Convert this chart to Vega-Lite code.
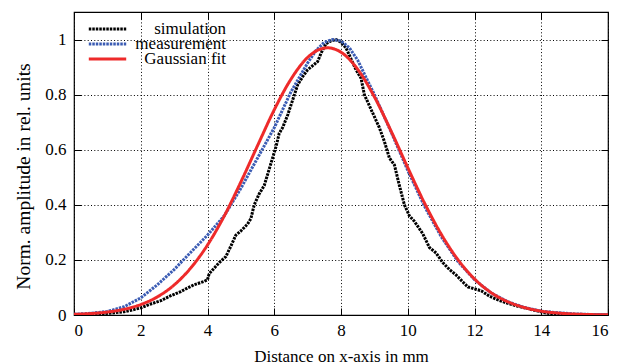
{
  "$schema": "https://vega.github.io/schema/vega-lite/v6.json",
  "width": 534,
  "height": 303,
  "autosize": {"type": "none"},
  "padding": {"left": 74, "top": 12, "right": 9, "bottom": 49},
  "background": "white",
  "config": {
    "font": "Liberation Serif",
    "style": {
      "guide-label": {"font": "Liberation Serif", "fill": "black"},
      "guide-title": {"font": "Liberation Serif", "fill": "black", "fontWeight": "normal"}
    },
    "view": {"stroke": "black", "strokeWidth": 1.2},
    "axis": {
      "domain": false,
      "tickColor": "black",
      "tickSize": -7,
      "tickWidth": 1,
      "labelFont": "Liberation Serif",
      "labelFontSize": 17,
      "labelColor": "black",
      "titleFont": "Liberation Serif",
      "titleFontWeight": "normal",
      "titleColor": "black",
      "gridColor": "black",
      "gridOpacity": 1,
      "gridWidth": 1,
      "gridDash": [1, 2.3]
    },
    "legend": {
      "orient": "none",
      "legendX": 13,
      "legendY": 10,
      "symbolType": "stroke",
      "symbolSize": 1400,
      "symbolStrokeWidth": 3,
      "labelFont": "Liberation Serif",
      "labelFontSize": 17,
      "labelColor": "black",
      "labelAlign": "right",
      "labelOffset": 98,
      "labelLimit": 0,
      "clipHeight": 14,
      "rowPadding": -4.5,
      "title": null
    }
  },
  "data": {
    "values": [
      {"s": "simulation", "x": 0, "y": 0},
      {"s": "simulation", "x": 0.5, "y": 0.001},
      {"s": "simulation", "x": 0.8, "y": 0.004},
      {"s": "simulation", "x": 1.2, "y": 0.008},
      {"s": "simulation", "x": 1.5, "y": 0.012},
      {"s": "simulation", "x": 1.8, "y": 0.02},
      {"s": "simulation", "x": 2.0, "y": 0.026},
      {"s": "simulation", "x": 2.3, "y": 0.04},
      {"s": "simulation", "x": 2.6, "y": 0.052},
      {"s": "simulation", "x": 2.9, "y": 0.07},
      {"s": "simulation", "x": 3.2, "y": 0.085},
      {"s": "simulation", "x": 3.4, "y": 0.098},
      {"s": "simulation", "x": 3.6, "y": 0.11},
      {"s": "simulation", "x": 3.9, "y": 0.122},
      {"s": "simulation", "x": 4.0, "y": 0.128},
      {"s": "simulation", "x": 4.05, "y": 0.15},
      {"s": "simulation", "x": 4.2, "y": 0.17},
      {"s": "simulation", "x": 4.35, "y": 0.19},
      {"s": "simulation", "x": 4.55, "y": 0.212},
      {"s": "simulation", "x": 4.7, "y": 0.25},
      {"s": "simulation", "x": 4.85, "y": 0.29},
      {"s": "simulation", "x": 5.0, "y": 0.305},
      {"s": "simulation", "x": 5.2, "y": 0.33},
      {"s": "simulation", "x": 5.3, "y": 0.35},
      {"s": "simulation", "x": 5.4, "y": 0.4},
      {"s": "simulation", "x": 5.55, "y": 0.44},
      {"s": "simulation", "x": 5.7, "y": 0.47},
      {"s": "simulation", "x": 5.85, "y": 0.53},
      {"s": "simulation", "x": 5.95, "y": 0.57},
      {"s": "simulation", "x": 6.05, "y": 0.61},
      {"s": "simulation", "x": 6.15, "y": 0.66},
      {"s": "simulation", "x": 6.25, "y": 0.68},
      {"s": "simulation", "x": 6.4, "y": 0.725},
      {"s": "simulation", "x": 6.55, "y": 0.78},
      {"s": "simulation", "x": 6.7, "y": 0.835},
      {"s": "simulation", "x": 6.85, "y": 0.865},
      {"s": "simulation", "x": 7.0, "y": 0.89},
      {"s": "simulation", "x": 7.15, "y": 0.905},
      {"s": "simulation", "x": 7.3, "y": 0.92},
      {"s": "simulation", "x": 7.4, "y": 0.95},
      {"s": "simulation", "x": 7.55, "y": 0.985},
      {"s": "simulation", "x": 7.7, "y": 0.995},
      {"s": "simulation", "x": 7.85, "y": 1.0},
      {"s": "simulation", "x": 8.0, "y": 0.99},
      {"s": "simulation", "x": 8.15, "y": 0.97},
      {"s": "simulation", "x": 8.3, "y": 0.93},
      {"s": "simulation", "x": 8.45, "y": 0.89},
      {"s": "simulation", "x": 8.6, "y": 0.86},
      {"s": "simulation", "x": 8.7, "y": 0.8},
      {"s": "simulation", "x": 8.85, "y": 0.76},
      {"s": "simulation", "x": 9.0, "y": 0.72},
      {"s": "simulation", "x": 9.15, "y": 0.68},
      {"s": "simulation", "x": 9.3, "y": 0.63},
      {"s": "simulation", "x": 9.45, "y": 0.57},
      {"s": "simulation", "x": 9.6, "y": 0.545},
      {"s": "simulation", "x": 9.75, "y": 0.47},
      {"s": "simulation", "x": 9.9, "y": 0.4},
      {"s": "simulation", "x": 10.05, "y": 0.36},
      {"s": "simulation", "x": 10.2, "y": 0.34},
      {"s": "simulation", "x": 10.45, "y": 0.295},
      {"s": "simulation", "x": 10.65, "y": 0.245},
      {"s": "simulation", "x": 10.85, "y": 0.225},
      {"s": "simulation", "x": 11.05, "y": 0.19},
      {"s": "simulation", "x": 11.25, "y": 0.165},
      {"s": "simulation", "x": 11.45, "y": 0.145},
      {"s": "simulation", "x": 11.65, "y": 0.12},
      {"s": "simulation", "x": 11.8, "y": 0.102},
      {"s": "simulation", "x": 12.0, "y": 0.095},
      {"s": "simulation", "x": 12.2, "y": 0.088},
      {"s": "simulation", "x": 12.45, "y": 0.068},
      {"s": "simulation", "x": 12.7, "y": 0.055},
      {"s": "simulation", "x": 13.0, "y": 0.042},
      {"s": "simulation", "x": 13.3, "y": 0.032},
      {"s": "simulation", "x": 13.6, "y": 0.023},
      {"s": "simulation", "x": 13.9, "y": 0.014},
      {"s": "simulation", "x": 14.2, "y": 0.006},
      {"s": "simulation", "x": 14.5, "y": 0.001},
      {"s": "simulation", "x": 15, "y": 0},
      {"s": "simulation", "x": 16, "y": 0},
      {"s": "measurement", "x": 0, "y": 0.003},
      {"s": "measurement", "x": 0.5, "y": 0.006},
      {"s": "measurement", "x": 1, "y": 0.013},
      {"s": "measurement", "x": 1.5, "y": 0.03},
      {"s": "measurement", "x": 2, "y": 0.062},
      {"s": "measurement", "x": 2.5, "y": 0.11},
      {"s": "measurement", "x": 3, "y": 0.165},
      {"s": "measurement", "x": 3.5, "y": 0.228},
      {"s": "measurement", "x": 4, "y": 0.29},
      {"s": "measurement", "x": 4.5, "y": 0.36},
      {"s": "measurement", "x": 5, "y": 0.46},
      {"s": "measurement", "x": 5.5, "y": 0.57},
      {"s": "measurement", "x": 6, "y": 0.68},
      {"s": "measurement", "x": 6.5, "y": 0.81},
      {"s": "measurement", "x": 7, "y": 0.915},
      {"s": "measurement", "x": 7.25, "y": 0.96},
      {"s": "measurement", "x": 7.5, "y": 0.99},
      {"s": "measurement", "x": 7.75, "y": 1.0},
      {"s": "measurement", "x": 8, "y": 0.995},
      {"s": "measurement", "x": 8.25, "y": 0.97},
      {"s": "measurement", "x": 8.5, "y": 0.925},
      {"s": "measurement", "x": 9, "y": 0.8},
      {"s": "measurement", "x": 9.5, "y": 0.665},
      {"s": "measurement", "x": 10, "y": 0.525},
      {"s": "measurement", "x": 10.5, "y": 0.395},
      {"s": "measurement", "x": 11, "y": 0.285},
      {"s": "measurement", "x": 11.5, "y": 0.195},
      {"s": "measurement", "x": 12, "y": 0.128},
      {"s": "measurement", "x": 12.5, "y": 0.08},
      {"s": "measurement", "x": 13, "y": 0.048},
      {"s": "measurement", "x": 13.5, "y": 0.027},
      {"s": "measurement", "x": 14, "y": 0.014},
      {"s": "measurement", "x": 14.5, "y": 0.008},
      {"s": "measurement", "x": 15, "y": 0.004},
      {"s": "measurement", "x": 15.5, "y": 0.002},
      {"s": "measurement", "x": 16, "y": 0.001},
      {"s": "Gaussian fit", "x": 0, "y": 0.0025},
      {"s": "Gaussian fit", "x": 0.5, "y": 0.0053},
      {"s": "Gaussian fit", "x": 1, "y": 0.0108},
      {"s": "Gaussian fit", "x": 1.5, "y": 0.0208},
      {"s": "Gaussian fit", "x": 2, "y": 0.038},
      {"s": "Gaussian fit", "x": 2.5, "y": 0.066},
      {"s": "Gaussian fit", "x": 3, "y": 0.109},
      {"s": "Gaussian fit", "x": 3.5, "y": 0.171},
      {"s": "Gaussian fit", "x": 4, "y": 0.254},
      {"s": "Gaussian fit", "x": 4.5, "y": 0.359},
      {"s": "Gaussian fit", "x": 5, "y": 0.483},
      {"s": "Gaussian fit", "x": 5.5, "y": 0.615},
      {"s": "Gaussian fit", "x": 6, "y": 0.745},
      {"s": "Gaussian fit", "x": 6.5, "y": 0.856},
      {"s": "Gaussian fit", "x": 7, "y": 0.935},
      {"s": "Gaussian fit", "x": 7.25, "y": 0.958},
      {"s": "Gaussian fit", "x": 7.6, "y": 0.97},
      {"s": "Gaussian fit", "x": 8, "y": 0.954},
      {"s": "Gaussian fit", "x": 8.5, "y": 0.892},
      {"s": "Gaussian fit", "x": 9, "y": 0.792},
      {"s": "Gaussian fit", "x": 9.5, "y": 0.668},
      {"s": "Gaussian fit", "x": 10, "y": 0.535},
      {"s": "Gaussian fit", "x": 10.5, "y": 0.407},
      {"s": "Gaussian fit", "x": 11, "y": 0.294},
      {"s": "Gaussian fit", "x": 11.5, "y": 0.2016},
      {"s": "Gaussian fit", "x": 12, "y": 0.131},
      {"s": "Gaussian fit", "x": 12.5, "y": 0.081},
      {"s": "Gaussian fit", "x": 13, "y": 0.048},
      {"s": "Gaussian fit", "x": 13.5, "y": 0.027},
      {"s": "Gaussian fit", "x": 14, "y": 0.014},
      {"s": "Gaussian fit", "x": 14.5, "y": 0.0071},
      {"s": "Gaussian fit", "x": 15, "y": 0.0034},
      {"s": "Gaussian fit", "x": 15.5, "y": 0.0015},
      {"s": "Gaussian fit", "x": 16, "y": 0.0007}
    ]
  },
  "encoding": {
    "x": {"field": "x", "type": "quantitative", "scale": {"domain": [0, 16], "nice": false, "zero": false}},
    "y": {"field": "y", "type": "quantitative", "scale": {"domain": [0, 1.1], "nice": false}},
    "color": {
      "field": "s", "type": "nominal",
      "scale": {"domain": ["simulation", "measurement", "Gaussian fit"], "range": ["#000000", "#3b5cb4", "#ee2a2a"]},
      "legend": {"labelFont": "Liberation Serif"}
    },
    "strokeDash": {
      "field": "s", "type": "nominal",
      "scale": {"domain": ["simulation", "measurement", "Gaussian fit"], "range": [[2.5, 1], [2.5, 1], [1, 0]]},
      "legend": {"labelFont": "Liberation Serif"}
    }
  },
  "layer": [
    {
      "transform": [{"filter": "datum.s === 'simulation'"}],
      "mark": {"type": "line", "strokeWidth": 3, "clip": true},
      "encoding": {
        "x": {"field": "x", "type": "quantitative", "axis": {"values": [0, 2, 4, 6, 8, 10, 12, 14, 16], "labelFont": "Liberation Serif", "title": "Distance on x-axis in mm", "titleFontSize": 17, "titleY": 46, "titleBaseline": "alphabetic", "labelPadding": 14, "grid": true}},
        "y": {"field": "y", "type": "quantitative", "axis": {"values": [0, 0.2, 0.4, 0.6, 0.8, 1], "format": "~g", "labelFont": "Liberation Serif", "title": "Norm. amplitude in rel. units", "titleFontSize": 19.5, "titleX": -45, "titleY": 164, "titleAngle": -90, "titleBaseline": "alphabetic", "titleAlign": "center", "labelPadding": 15, "grid": true}}
      }
    },
    {
      "transform": [{"filter": "datum.s === 'measurement'"}],
      "mark": {"type": "line", "strokeWidth": 3, "clip": true},
      "encoding": {
        "x": {"field": "x", "type": "quantitative", "axis": null},
        "y": {"field": "y", "type": "quantitative", "axis": null}
      }
    },
    {
      "transform": [{"filter": "datum.s === 'Gaussian fit'"}],
      "mark": {"type": "line", "strokeWidth": 3, "interpolate": "monotone", "clip": true},
      "encoding": {
        "x": {"field": "x", "type": "quantitative", "axis": null},
        "y": {"field": "y", "type": "quantitative", "axis": null}
      }
    },
    {
      "transform": [{"filter": "datum.s === 'Gaussian fit'"}],
      "mark": {"type": "line", "opacity": 0, "strokeWidth": 0},
      "encoding": {
        "x": {"field": "x", "type": "quantitative", "axis": {"orient": "top", "values": [0, 2, 4, 6, 8, 10, 12, 14, 16], "labels": false, "title": null, "grid": false}},
        "y": {"field": "y", "type": "quantitative", "axis": {"orient": "right", "values": [0, 0.2, 0.4, 0.6, 0.8, 1], "labels": false, "title": null, "grid": false}}
      }
    }
  ],
  "resolve": {"axis": {"x": "independent", "y": "independent"}}
}
